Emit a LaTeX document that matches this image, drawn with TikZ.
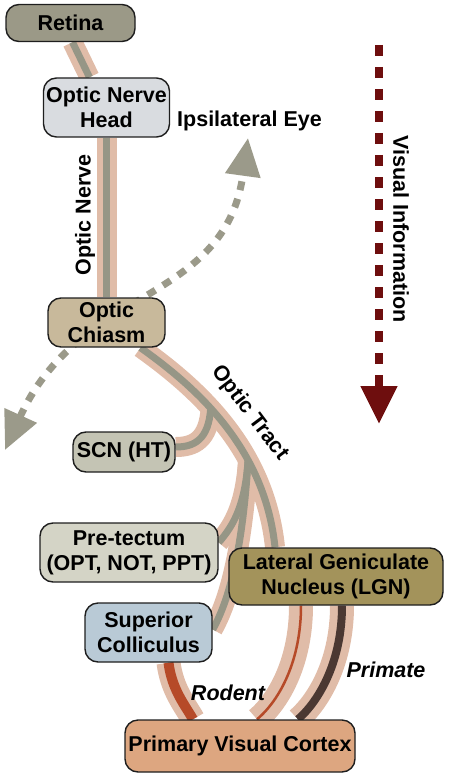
\documentclass[tikz,border=0pt]{standalone}
\usepackage{fontspec}
\setmainfont{Liberation Sans}
\usetikzlibrary{arrows.meta,backgrounds,calc}

\definecolor{sheathc}{RGB}{224,188,168}
\definecolor{fibrec}{RGB}{150,150,134}
\definecolor{edgec}{RGB}{30,30,30}
\definecolor{retinafill}{RGB}{155,153,135}
\definecolor{onhfill}{RGB}{217,220,224}
\definecolor{chiasmfill}{RGB}{200,185,155}
\definecolor{scnfill}{RGB}{196,196,180}
\definecolor{ptfill}{RGB}{212,212,198}
\definecolor{lgnfill}{RGB}{163,147,91}
\definecolor{scfill}{RGB}{185,202,214}
\definecolor{vonefill}{RGB}{221,166,128}
\definecolor{visred}{RGB}{110,14,14}
\definecolor{rodred}{RGB}{182,74,40}
\definecolor{primbrown}{RGB}{75,56,50}
\definecolor{dashgray}{RGB}{155,154,138}

\begin{document}
\begin{tikzpicture}[x=1pt,y=-1pt,
    every node/.style={font=\bfseries\fontsize{21.5}{25}\selectfont, inner sep=0pt, align=center},
    region/.style={draw=edgec, line width=1.4pt, rounded corners=13pt},
    species/.style={font=\bfseries\itshape\fontsize{21.5}{25}\selectfont},
    sheath/.style={draw=sheathc, line width=20pt},
    core/.style={draw=fibrec, line width=7pt},
    widesheath/.style={draw=sheathc, line width=24pt},
    rodentcore/.style={draw=rodred, line width=10pt, preaction={widesheath}},
    rodentthin/.style={draw=rodred, line width=2.5pt, preaction={widesheath}},
    primatecore/.style={draw=primbrown, line width=8pt, preaction={widesheath}},
    crossarrow/.style={draw=dashgray, line width=7pt, dash pattern=on 9pt off 9pt},
    flowarrow/.style={draw=visred, line width=8pt, dash pattern=on 11pt off 11pt}]
    \useasboundingbox (0,0) rectangle (448,778);

    % brain regions
    \node[region, fill=retinafill, minimum width=129pt, minimum height=37pt] (retina) at (70.5,23) {Retina};
    \node[region, fill=onhfill, minimum width=126pt, minimum height=59pt] (onh) at (106.5,107.5) {Optic Nerve\\Head};
    \node[region, fill=chiasmfill, minimum width=117pt, minimum height=49pt] (chiasm) at (106.5,322.5) {Optic\\Chiasm};
    \node[region, fill=scnfill, minimum width=102pt, minimum height=40pt] (scn) at (124,452) {SCN (HT)};
    \node[region, fill=ptfill, minimum width=178pt, minimum height=59pt] (pt) at (129,552.5) {Pre-tectum\\(OPT, NOT, PPT)};
    \node[region, fill=lgnfill, minimum width=214pt, minimum height=57pt] (lgn) at (336,576.5) {Lateral Geniculate\\Nucleus (LGN)};
    \node[region, fill=scfill, minimum width=127pt, minimum height=59pt] (sc) at (148.5,632.5) {Superior\\Colliculus};
    \node[region, fill=vonefill, minimum width=230pt, minimum height=52pt] (vone) at (240,746) {Primary Visual Cortex};

    % labels
    \node[rotate=90] (nervelabel) at (85,215) {Optic Nerve};
    \node[rotate=-53] (tractlabel) at (250,413) {Optic Tract};
    \node (eye) at (249.5,121) {Ipsilateral Eye};
    \node[rotate=-90] (vislabel) at (401,229) {Visual Information};
    \node[species] (rodent) at (228,693) {Rodent};
    \node[species] (primate) at (386,670) {Primate};

    \coordinate (ipsi) at (248,138);
    \coordinate (contra) at (5,450);
    \coordinate (vtop) at (379,45);
    \coordinate (vbot) at (379,424);

    \draw[flowarrow, -{Triangle[length=38pt,width=35pt]}] (vtop) -- (vbot);

    \begin{scope}[on background layer]
        \draw[crossarrow, {Triangle[length=38pt,width=34pt]}-{Triangle[length=38pt,width=34pt]}]
            (contra) .. controls (80,285) and (225,305) .. (ipsi);

        % branch points on the optic tract
        \path ([xshift=34pt]chiasm.south) .. controls (200,390) and (265,450) .. ([xshift=-61pt]lgn.north)
            coordinate[pos=0.4] (jscn) coordinate[pos=0.66] (jmid);

        \foreach \layer in {sheath,core} {
            \draw[\layer] ([xshift=2pt]retina.south) -- ([xshift=-17pt]onh.north);
            \draw[\layer] (onh.south) -- (chiasm.north);
            \draw[\layer] ([xshift=34pt]chiasm.south) .. controls (200,390) and (265,450) .. ([xshift=-61pt]lgn.north);
            \draw[\layer] (jscn) .. controls ($(jscn)+(-2,32)$) and ($(scn.east)+(18,-5)$) .. ([yshift=5pt]scn.east);
            \draw[\layer] (jmid) .. controls (245,505) and (234,525) .. ([yshift=10pt]pt.east);
            \draw[\layer] (jmid) .. controls (243,540) and (232,595) .. ([yshift=3pt]sc.east);
        }

        % to the cortex
        \draw[rodentcore] ([xshift=20pt]sc.south) .. controls (172,690) and (185,705) .. ([xshift=-47pt]vone.north);
        \draw[rodentthin] ([xshift=-35pt]lgn.south) .. controls (301,660) and (280,700) .. ([xshift=17pt]vone.north);
        \draw[primatecore] ([xshift=6pt]lgn.south) .. controls (342,660) and (320,700) .. ([xshift=58pt]vone.north);
    \end{scope}
\end{tikzpicture}
\end{document}
